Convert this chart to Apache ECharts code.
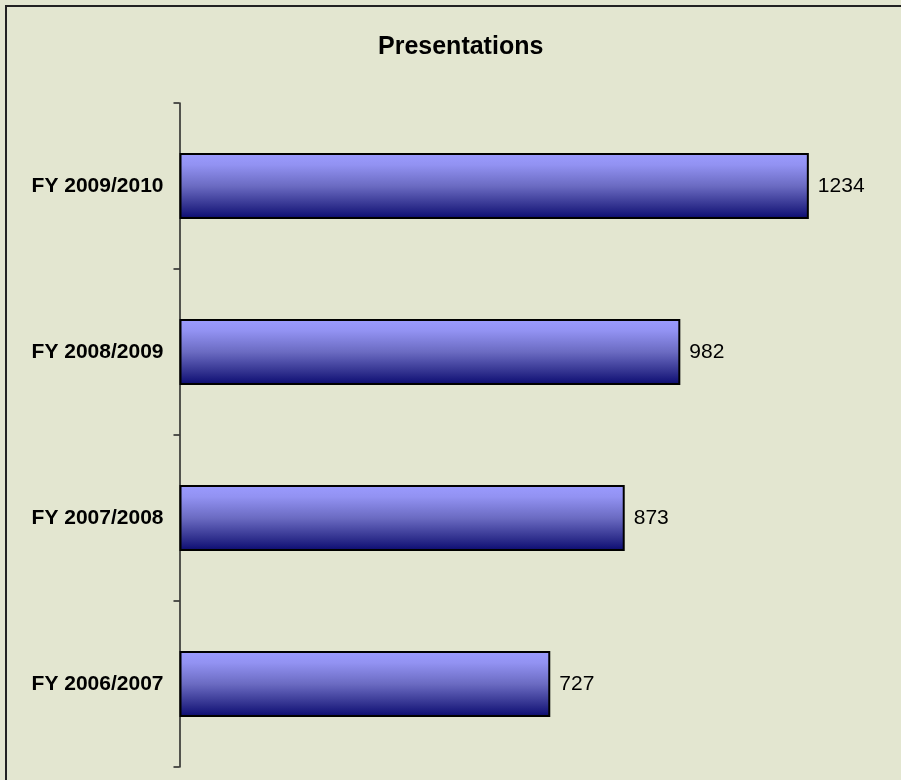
<!DOCTYPE html>
<html>
<head>
<meta charset="utf-8">
<script src="https://cdn.jsdelivr.net/npm/echarts@6/dist/echarts.min.js"></script>
<style>
html,body{margin:0;padding:0;background:#e3e6d0;}
#chart{width:901px;height:780px;}
</style>
</head>
<body>
<div id="chart"></div>
<script>
// Data (bottom-to-top order as in the chart)
var categories = ['FY 2006/2007', 'FY 2007/2008', 'FY 2008/2009', 'FY 2009/2010'];
var presentations = [727, 873, 982, 1234];
var chartTitle = 'Presentations';

var chart = echarts.init(document.getElementById('chart'));
var barGradient = new echarts.graphic.LinearGradient(0, 0, 0, 1, [
  {offset: 0, color: '#9b9bff'},
  {offset: 0.18, color: '#9292f2'},
  {offset: 0.5, color: '#6b6bc2'},
  {offset: 0.8, color: '#32328f'},
  {offset: 0.94, color: '#16167a'},
  {offset: 1, color: '#0a0a66'}
]);
chart.setOption({
  backgroundColor: '#e3e6d0',
  animation: false,
  title: {
    text: chartTitle,
    left: 373,
    top: 30,
    textStyle: {fontFamily: 'Liberation Sans, Arial, sans-serif', fontSize: 25, fontWeight: 'bold', color: '#000'}
  },
  graphic: [{
    type: 'rect',
    shape: {x: 6, y: 6, width: 1000, height: 1000},
    style: {fill: 'none', stroke: '#222', lineWidth: 2},
    silent: true
  }],
  grid: {left: 179.5, right: 7.5, top: 103, bottom: 13, containLabel: false},
  xAxis: {
    type: 'value', min: 0, max: 1400, show: false,
    splitLine: {show: false}
  },
  yAxis: {
    type: 'category',
    data: categories,
    axisLine: {show: true, lineStyle: {color: '#222', width: 1.5}},
    axisTick: {show: true, length: 6, lineStyle: {color: '#222', width: 1.5}},
    axisLabel: {
      margin: 16,
      fontFamily: 'Liberation Sans, Arial, sans-serif',
      fontSize: 21,
      fontWeight: 'bold',
      color: '#000'
    }
  },
  series: [{
    type: 'bar',
    data: presentations,
    barWidth: 66,
    itemStyle: {color: barGradient, borderColor: '#000', borderWidth: 2},
    label: {
      show: true,
      position: 'right',
      distance: 9,
      fontFamily: 'Liberation Sans, Arial, sans-serif',
      fontSize: 21,
      color: '#000'
    }
  }]
});
</script>
</body>
</html>
